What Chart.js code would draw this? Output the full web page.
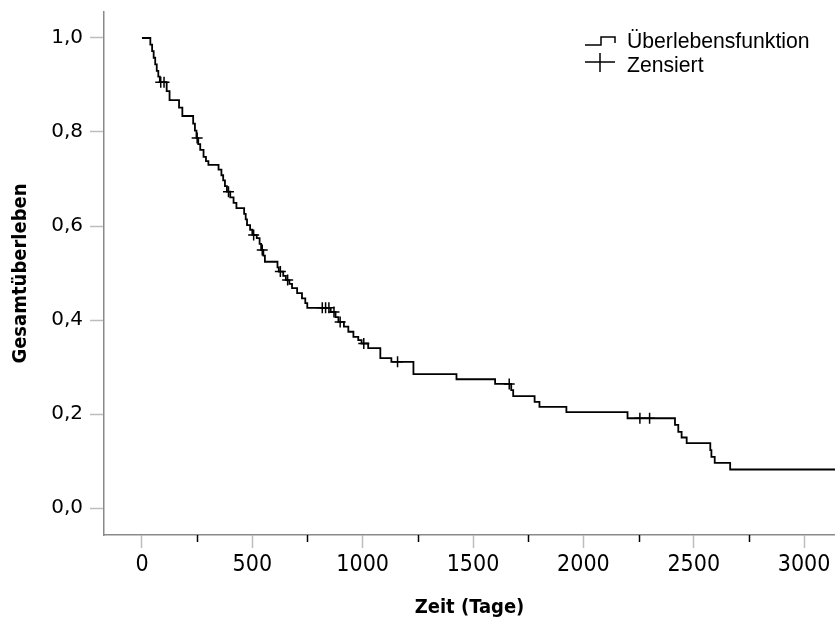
<!DOCTYPE html>
<html>
<head>
<meta charset="utf-8">
<script src="https://cdn.jsdelivr.net/npm/chart.js@4.4.1/dist/chart.umd.min.js"></script>
<style>
  body { margin: 0; background: #fff; }
</style>
</head>
<body>
<canvas id="km" width="835" height="626"></canvas>
<script>
// Kaplan-Meier: Tag des Ereignisses und Überleben danach
const eventDays = [0, 38, 46, 53, 60, 67, 74, 81, 112, 125, 168, 183, 232, 240, 247, 255, 264, 279, 290, 301,
  347, 360, 368, 376, 385, 400, 415, 428, 463, 470, 476, 490, 500, 520, 533, 540, 550, 557, 614, 620,
  640, 652, 668, 680, 703, 725, 740, 749, 855, 877, 890, 915, 935, 958, 980, 995, 1025, 1080, 1130, 1230,
  1425, 1600, 1673, 1682, 1779, 1801, 1923, 2200, 2415, 2430, 2445, 2468, 2575, 2580, 2595, 2665];
const survival = [1.0, 0.986, 0.972, 0.958, 0.944, 0.930, 0.918, 0.906, 0.887, 0.868, 0.852, 0.834, 0.818, 0.803, 0.787, 0.774, 0.762, 0.747, 0.738, 0.730,
  0.720, 0.708, 0.697, 0.685, 0.673, 0.661, 0.649, 0.638, 0.626, 0.614, 0.602, 0.592, 0.581, 0.574, 0.562, 0.549, 0.537, 0.524, 0.512, 0.503,
  0.494, 0.485, 0.477, 0.468, 0.457, 0.446, 0.436, 0.426, 0.417, 0.406, 0.396, 0.386, 0.375, 0.364, 0.357, 0.350, 0.340, 0.319, 0.311, 0.285,
  0.274, 0.264, 0.251, 0.238, 0.226, 0.215, 0.204, 0.191, 0.177, 0.162, 0.150, 0.138, 0.123, 0.109, 0.096, 0.082];
const lastDay = 3200;
const censorDays = [85, 100, 250, 392, 506, 545, 627, 660, 817, 832, 847, 870, 898, 1005, 1158, 1664, 2256, 2300];

const xTicks = [0, 500, 1000, 1500, 2000, 2500, 3000];
const xMinorTicks = [250, 750, 1250, 1750, 2250, 2750];
const yTicks = [0, 0.2, 0.4, 0.6, 0.8, 1.0];

function survivalAt(day) {
  let s = survival[0];
  for (let i = 0; i < eventDays.length; i++) {
    if (eventDays[i] <= day) s = survival[i];
  }
  return s;
}

const curve = eventDays.map((d, i) => ({ x: d, y: survival[i] }));
curve.push({ x: lastDay, y: survival[survival.length - 1] });
const censored = censorDays.map(d => ({ x: d, y: survivalAt(d) }));

const condensed = "'DejaVu Sans Condensed', 'Liberation Sans Narrow', 'DejaVu Sans', sans-serif";

// kleine schwarze Zwischenstriche an der x-Achse + Legende oben rechts
const extras = {
  id: 'extras',
  afterDraw(chart) {
    const ctx = chart.ctx;
    const xs = chart.scales.x;
    const bottom = chart.chartArea.bottom;
    ctx.save();
    ctx.strokeStyle = '#000';
    ctx.lineWidth = 1.5;
    xMinorTicks.forEach(v => {
      const px = Math.round(xs.getPixelForValue(v)) + 0.5;
      ctx.beginPath();
      ctx.moveTo(px, bottom);
      ctx.lineTo(px, bottom + 7);
      ctx.stroke();
    });

    ctx.beginPath();
    ctx.moveTo(585, 45); ctx.lineTo(601, 45); ctx.lineTo(601, 37);
    ctx.lineTo(615, 37); ctx.lineTo(615, 43);
    ctx.stroke();
    ctx.beginPath();
    ctx.moveTo(585, 62); ctx.lineTo(615, 62);
    ctx.moveTo(600, 53); ctx.lineTo(600, 72);
    ctx.stroke();

    ctx.fillStyle = '#000';
    ctx.font = '21.2px "Liberation Sans", Arial, sans-serif';
    ctx.textBaseline = 'alphabetic';
    ctx.fillText(chart.data.datasets[0].label, 627, 48);
    ctx.fillText(chart.data.datasets[1].label, 627, 72);
    ctx.restore();
  }
};

new Chart(document.getElementById('km'), {
  type: 'line',
  data: {
    datasets: [
      {
        label: 'Überlebensfunktion',
        data: curve,
        stepped: 'before',
        borderColor: '#000',
        borderWidth: 1.8,
        pointRadius: 0,
        fill: false
      },
      {
        label: 'Zensiert',
        type: 'scatter',
        data: censored,
        showLine: false,
        pointStyle: 'cross',
        pointRadius: 5.5,
        borderColor: '#000',
        pointBorderColor: '#000',
        pointBorderWidth: 1.5
      }
    ]
  },
  options: {
    responsive: false,
    animation: false,
    devicePixelRatio: 1,
    layout: { autoPadding: false, padding: { top: 12, right: 0, left: 0, bottom: 0 } },
    plugins: { legend: { display: false }, tooltip: { enabled: false } },
    scales: {
      x: {
        type: 'linear',
        min: -172,
        max: 3140,
        afterBuildTicks: s => { s.ticks = xTicks.map(v => ({ value: v })); },
        afterFit: s => { s.height = 91; s.paddingLeft = 0; s.paddingRight = 0; },
        grid: { drawOnChartArea: false, tickLength: 13, tickColor: '#bdbdbd', tickWidth: 1.5 },
        border: { color: '#8a8a8a', width: 1.5 },
        ticks: {
          color: '#000',
          font: { family: condensed, size: 23 },
          padding: 3,
          maxRotation: 0,
          autoSkip: false,
          callback: v => String(v)
        },
        title: {
          display: true,
          text: 'Zeit (Tage)',
          color: '#000',
          font: { family: condensed, size: 20, weight: 'bold' },
          padding: { top: 0, bottom: 6 }
        }
      },
      y: {
        min: -0.0574,
        max: 1.0553,
        afterBuildTicks: s => { s.ticks = yTicks.map(v => ({ value: v })); },
        afterFit: s => { s.width = 104; s.paddingTop = 0; s.paddingBottom = 0; },
        grid: { drawOnChartArea: false, tickLength: 14, tickColor: '#bdbdbd', tickWidth: 1.5 },
        border: { color: '#8a8a8a', width: 1.5 },
        ticks: {
          color: '#000',
          font: { family: "'DejaVu Sans', sans-serif", size: 20 },
          padding: 7,
          callback: v => v.toFixed(1).replace('.', ',')
        },
        title: {
          display: true,
          text: 'Gesamtüberleben',
          color: '#000',
          font: { family: condensed, size: 20, weight: 'bold' },
          padding: { top: 9, bottom: 0 }
        }
      }
    }
  },
  plugins: [extras]
});
</script>
</body>
</html>
